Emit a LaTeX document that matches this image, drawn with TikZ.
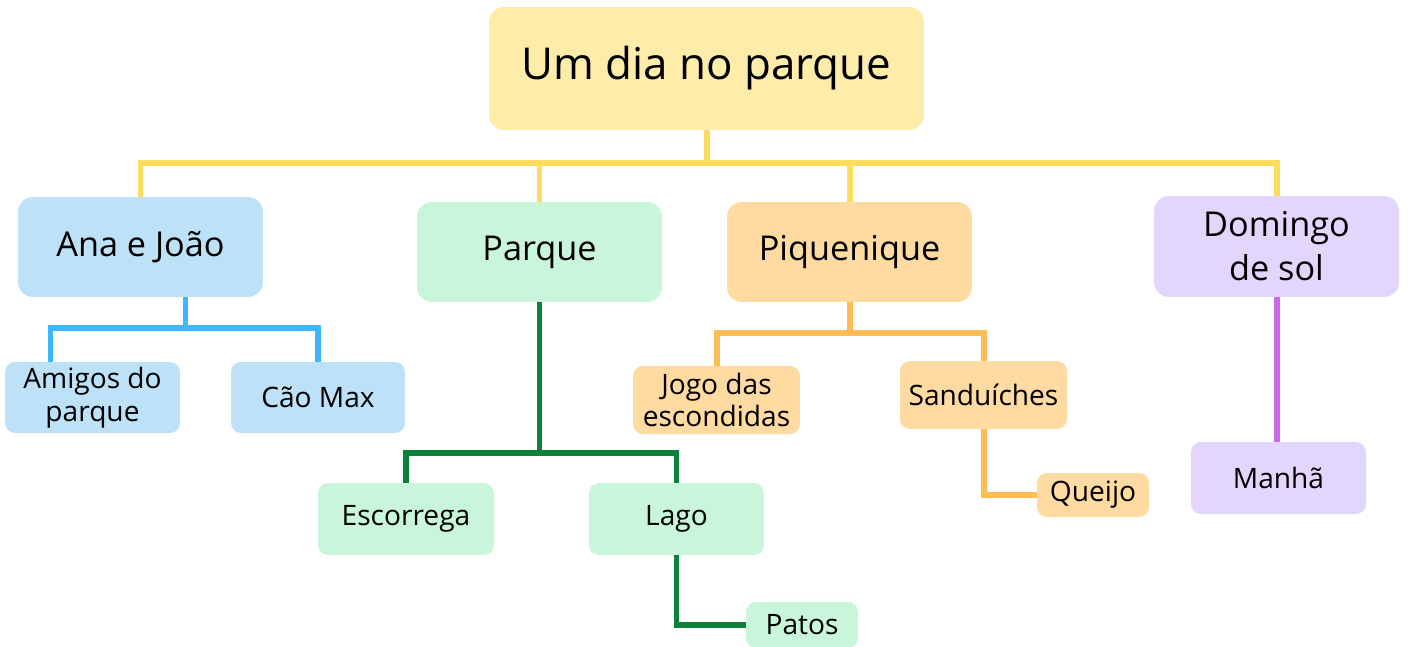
\documentclass[tikz,border=0pt]{standalone}
\usepackage{fontspec}
\setmainfont{Open Sans}
\usetikzlibrary{calc}

\definecolor{rootfill}{HTML}{FEECA9}
\definecolor{rootline}{HTML}{FFDB5E}
\definecolor{bluefill}{HTML}{BDE1F6}
\definecolor{blueline}{HTML}{3DB7FF}
\definecolor{greenfill}{HTML}{C9F6DA}
\definecolor{greenline}{HTML}{0C8139}
\definecolor{orangefill}{HTML}{FFDAA1}
\definecolor{orangeline}{HTML}{FFBD55}
\definecolor{purplefill}{HTML}{E2D6FD}
\definecolor{purpleline}{HTML}{CD68E8}

\begin{document}
\begin{tikzpicture}[x=0.02cm, y=-0.02cm,
    topic/.style={rounded corners=0.3cm, font=\fontsize{19.5}{25}\selectfont, align=center, inner sep=0pt},
    leaf/.style={rounded corners=0.2cm, font=\fontsize{16}{18.5}\selectfont, align=center, inner sep=0pt},
    link/.style={line width=3.4pt, line cap=butt, line join=miter}]
    \useasboundingbox (0,0) rectangle (1408,646);

    % Nodes
    \node (root) [topic, fill=rootfill, minimum width=8.7cm, minimum height=2.46cm,
        font=\fontsize{25}{30}\selectfont] at (706.5,68.5) {Um dia no parque};

    \node (ana) [topic, fill=bluefill, minimum width=4.9cm, minimum height=2cm] at (140.5,247) {Ana e João};
    \node (parque) [topic, fill=greenfill, minimum width=4.9cm, minimum height=2cm] at (539.5,252) {Parque};
    \node (piquenique) [topic, fill=orangefill, minimum width=4.9cm, minimum height=2cm] at (849.5,252) {Piquenique};
    \node (domingo) [topic, fill=purplefill, minimum width=4.9cm, minimum height=2.02cm] at (1276.5,246.5) {Domingo\\de sol};

    \node (amigos) [leaf, fill=bluefill, minimum width=3.5cm, minimum height=1.42cm] at (92.5,397.5) {Amigos do\\parque};
    \node (cao) [leaf, fill=bluefill, minimum width=3.48cm, minimum height=1.42cm] at (318,397.5) {Cão Max};

    \node (escorrega) [leaf, fill=greenfill, minimum width=3.52cm, minimum height=1.44cm] at (406,519) {Escorrega};
    \node (lago) [leaf, fill=greenfill, minimum width=3.5cm, minimum height=1.44cm] at (676.5,519) {Lago};
    \node (patos) [leaf, fill=greenfill, minimum width=2.24cm, minimum height=0.92cm] at (802,625) {Patos};

    \node (jogo) [leaf, fill=orangefill, minimum width=3.34cm, minimum height=1.36cm] at (716.5,400) {Jogo das\\escondidas};
    \node (sanduiches) [leaf, fill=orangefill, minimum width=3.34cm, minimum height=1.36cm] at (983.5,395) {Sanduíches};
    \node (queijo) [leaf, fill=orangefill, minimum width=2.24cm, minimum height=0.88cm] at (1093,495) {Queijo};

    \node (manha) [leaf, fill=purplefill, minimum width=3.5cm, minimum height=1.44cm] at (1278.5,478) {Manhã};

    % Links
    \coordinate (bus) at (0,163);
    \draw[link, rootline] (root.south) -- (root.south |- bus);
    \draw[link, rootline] (ana.north) -- (ana.north |- bus) -- (domingo.north |- bus) -- (domingo.north);
    \draw[link, rootline] (parque.north) -- (parque.north |- bus);
    \draw[link, rootline] (piquenique.north) -- (piquenique.north |- bus);

    \coordinate (bluebus) at (0,328);
    \coordinate (anadrop) at ($(ana.south)+(45,0)$);
    \coordinate (amigostop) at ($(amigos.north)+(-42,0)$);
    \draw[link, blueline] (anadrop) -- (anadrop |- bluebus);
    \draw[link, blueline] (amigostop) -- (amigostop |- bluebus)
        -- (cao.north |- bluebus) -- (cao.north);

    \coordinate (greenbus) at (0,453);
    \draw[link, greenline] (parque.south) -- (parque.south |- greenbus);
    \draw[link, greenline] (escorrega.north) -- (escorrega.north |- greenbus)
        -- (lago.north |- greenbus) -- (lago.north);
    \draw[link, greenline] (lago.south) |- (patos.west);

    \coordinate (orangebus) at (0,333);
    \draw[link, orangeline] (piquenique.south) -- (piquenique.south |- orangebus);
    \draw[link, orangeline] (jogo.north) -- (jogo.north |- orangebus)
        -- (sanduiches.north |- orangebus) -- (sanduiches.north);
    \draw[link, orangeline] (sanduiches.south) |- (queijo.west);

    \draw[link, purpleline] (domingo.south) -- (domingo.south |- manha.north);
\end{tikzpicture}
\end{document}
